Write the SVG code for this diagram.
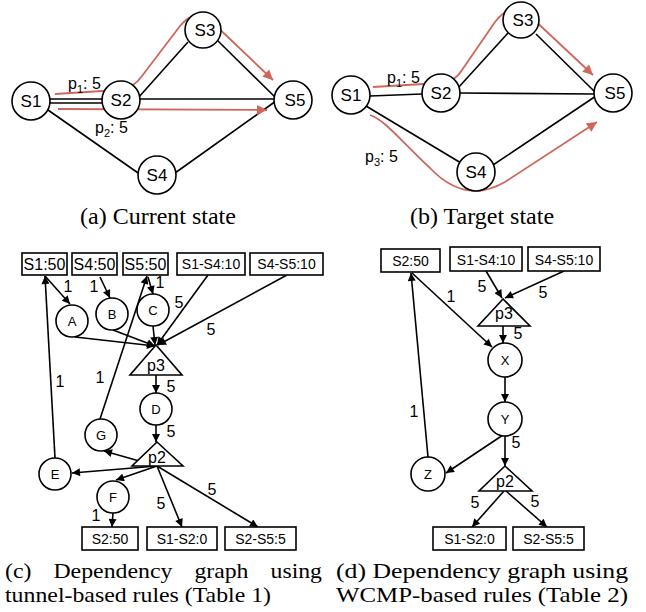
<svg xmlns="http://www.w3.org/2000/svg" width="646" height="612" viewBox="0 0 646 612">
<style>
.bg{fill:#fff}
.nd{fill:#fff;stroke:#000;stroke-width:1.6}
.ln{stroke:#000;stroke-width:1.6;fill:none}
.la{stroke:#000;stroke-width:1.6;fill:none;marker-end:url(#ah)}
.rd{stroke:#d0665b;stroke-width:1.8;fill:none;marker-end:url(#rh)}
.t{font-family:"Liberation Sans",Arial,sans-serif;fill:#000;text-anchor:middle}
.big{font-size:17px}
.sm{font-size:13px}
.bx16{font-size:16px}
.bx14{font-size:14px}
.w{font-size:16px}
.tri{font-size:16px}
.lbl{font-family:"Liberation Sans",Arial,sans-serif;font-size:16px;fill:#000}
.cap{font-family:"Liberation Serif","Times New Roman",serif;font-size:24px;fill:#000}
.cap2{font-family:"Liberation Serif","Times New Roman",serif;font-size:22px;fill:#000}
</style>
<defs>
<marker id="ah" viewBox="0 0 10 10" refX="10" refY="5" markerWidth="9" markerHeight="8" markerUnits="userSpaceOnUse" orient="auto"><path d="M0,0 L10,5 L0,10 z" fill="#000"/></marker>
<marker id="rh" viewBox="0 0 10 10" refX="10" refY="5" markerWidth="12" markerHeight="10" markerUnits="userSpaceOnUse" orient="auto"><path d="M0,0 L10,5 L0,10 z" fill="#d0665b"/></marker>
</defs>
<rect class="bg" width="646" height="612"/>

<!-- Panel (a) -->
<g id="a-edges">
<line class="ln" x1="50" y1="99" x2="102" y2="99"/>
<line class="ln" x1="50" y1="103" x2="102" y2="103"/>
<line class="ln" x1="138" y1="98" x2="188" y2="42"/>
<line class="ln" x1="217" y1="40" x2="276" y2="98"/>
<line class="ln" x1="140" y1="99" x2="274" y2="99"/>
<line class="ln" x1="48" y1="110" x2="141" y2="175"/>
<line class="ln" x1="175" y1="173" x2="276" y2="101"/>
<path class="rd" d="M55,94 L118,90 Q133,89 142,76 L180,26 Q196,7 212,22 L273,80"/>
<path class="rd" d="M58,109 L267,110"/>
</g>
<g id="a-S1"><circle class="nd" cx="31" cy="101" r="19"/><text class="t big" x="31" y="107">S1</text></g>
<g id="a-S2"><circle class="nd" cx="121" cy="100" r="19"/><text class="t big" x="121" y="106">S2</text></g>
<g id="a-S3"><circle class="nd" cx="203" cy="30" r="18"/><text class="t big" x="205" y="36">S3</text></g>
<g id="a-S5"><circle class="nd" cx="293" cy="100" r="19"/><text class="t big" x="295" y="106">S5</text></g>
<g id="a-S4"><circle class="nd" cx="157" cy="175" r="19"/><text class="t big" x="157" y="181">S4</text></g>
<text class="lbl" x="68" y="89">p<tspan font-size="11" dy="4">1</tspan><tspan dy="-4">: 5</tspan></text>
<text class="lbl" x="95" y="133">p<tspan font-size="11" dy="4">2</tspan><tspan dy="-4">: 5</tspan></text>

<!-- Panel (b) -->
<g id="b-edges">
<line class="ln" x1="370" y1="96" x2="422" y2="94"/>
<line class="ln" x1="458" y1="88" x2="508" y2="33"/>
<line class="ln" x1="536" y1="34" x2="596" y2="93"/>
<line class="ln" x1="460" y1="93" x2="594" y2="94"/>
<line class="ln" x1="366" y1="106" x2="461" y2="163"/>
<line class="ln" x1="493" y1="165" x2="596" y2="96"/>
<path class="rd" d="M373,87 L440,83 Q455,82 462,70 L495,22 Q512,0 530,16 L593,75"/>
<path class="rd" d="M370,115 C385,120 400,140 430,168 Q465,205 505,182 L597,122"/>
</g>
<g id="b-S1"><circle class="nd" cx="351" cy="95" r="19"/><text class="t big" x="351" y="101">S1</text></g>
<g id="b-S2"><circle class="nd" cx="441" cy="93" r="19"/><text class="t big" x="441" y="99">S2</text></g>
<g id="b-S3"><circle class="nd" cx="521" cy="20" r="18"/><text class="t big" x="523" y="26">S3</text></g>
<g id="b-S5"><circle class="nd" cx="613" cy="93" r="19"/><text class="t big" x="615" y="99">S5</text></g>
<g id="b-S4"><circle class="nd" cx="476" cy="172" r="19"/><text class="t big" x="476" y="178">S4</text></g>
<text class="lbl" x="387" y="83">p<tspan font-size="11" dy="4">1</tspan><tspan dy="-4">: 5</tspan></text>
<text class="lbl" x="365" y="162">p<tspan font-size="11" dy="4">3</tspan><tspan dy="-4">: 5</tspan></text>

<text class="cap" x="80" y="224">(a) Current state</text>
<text class="cap" x="410" y="224">(b) Target state</text>

<!-- Panel (c) -->
<g id="c-edges">
<line class="la" x1="45" y1="276" x2="70" y2="304"/>
<line class="la" x1="100" y1="277" x2="110" y2="298"/>
<line class="la" x1="148" y1="277" x2="153" y2="294"/>
<line class="la" x1="55" y1="458" x2="45" y2="276"/>
<line class="la" x1="100" y1="419" x2="147" y2="276"/>
<line class="la" x1="75" y1="337" x2="155" y2="346"/>
<line class="la" x1="113" y1="330" x2="155" y2="346"/>
<line class="la" x1="153" y1="326" x2="155" y2="345"/>
<line class="la" x1="208" y1="275" x2="157" y2="345"/>
<line class="la" x1="287" y1="275" x2="158" y2="345"/>
<line class="la" x1="156" y1="375" x2="156" y2="393"/>
<line class="la" x1="156" y1="425" x2="156" y2="442"/>
<line class="la" x1="157" y1="466" x2="104" y2="451"/>
<line class="la" x1="157" y1="466" x2="72" y2="473"/>
<line class="la" x1="157" y1="466" x2="116" y2="480"/>
<line class="la" x1="157" y1="466" x2="182" y2="527"/>
<line class="la" x1="157" y1="466" x2="258" y2="527"/>
<line class="la" x1="113" y1="513" x2="112" y2="527"/>
<text class="t w" x="68" y="292">1</text>
<text class="t w" x="94" y="292">1</text>
<text class="t w" x="160" y="288">1</text>
<text class="t w" x="60" y="387">1</text>
<text class="t w" x="100" y="383">1</text>
<text class="t w" x="179" y="308">5</text>
<text class="t w" x="211" y="335">5</text>
<text class="t w" x="171" y="392">5</text>
<text class="t w" x="171" y="437">5</text>
<text class="t w" x="161" y="509">5</text>
<text class="t w" x="212" y="495">5</text>
<text class="t w" x="96" y="521">1</text>
</g>
<g id="c-S1-50"><rect class="nd" x="22" y="253" width="45" height="22"/><text class="t bx16" x="44.5" y="270">S1:50</text></g>
<g id="c-S4-50"><rect class="nd" x="72" y="253" width="45" height="22"/><text class="t bx16" x="94.5" y="270">S4:50</text></g>
<g id="c-S5-50"><rect class="nd" x="123" y="253" width="45" height="22"/><text class="t bx16" x="145.5" y="270">S5:50</text></g>
<g id="c-S1-S4"><rect class="nd" x="177" y="253" width="68" height="22"/><text class="t bx14" x="211" y="269">S1-S4:10</text></g>
<g id="c-S4-S5"><rect class="nd" x="250" y="253" width="73" height="22"/><text class="t bx14" x="286.5" y="269">S4-S5:10</text></g>
<g id="c-A"><circle class="nd" cx="72" cy="321" r="16"/><text class="t sm" x="72" y="326">A</text></g>
<g id="c-B"><circle class="nd" cx="112" cy="314" r="16"/><text class="t sm" x="112" y="319">B</text></g>
<g id="c-C"><circle class="nd" cx="153" cy="310" r="16"/><text class="t sm" x="153" y="315">C</text></g>
<g id="c-p3"><polygon class="nd" points="156,345 130,375 182,375"/><text class="t tri" x="156" y="371">p3</text></g>
<g id="c-D"><circle class="nd" cx="156" cy="409" r="16"/><text class="t sm" x="156" y="414">D</text></g>
<g id="c-G"><circle class="nd" cx="101" cy="435" r="16"/><text class="t sm" x="101" y="440">G</text></g>
<g id="c-p2"><polygon class="nd" points="157,442 132,466 183,466"/><text class="t tri" x="157" y="463">p2</text></g>
<g id="c-E"><circle class="nd" cx="55" cy="474" r="16"/><text class="t sm" x="55" y="479">E</text></g>
<g id="c-F"><circle class="nd" cx="113" cy="497" r="16"/><text class="t sm" x="113" y="502">F</text></g>
<g id="c-S2-50"><rect class="nd" x="82" y="527" width="56" height="23"/><text class="t bx14" x="110" y="544">S2:50</text></g>
<g id="c-S1-S2"><rect class="nd" x="147" y="527" width="70" height="23"/><text class="t bx14" x="182" y="544">S1-S2:0</text></g>
<g id="c-S2-S5"><rect class="nd" x="225" y="527" width="71" height="23"/><text class="t bx14" x="260.5" y="544">S2-S5:5</text></g>

<!-- Panel (d) -->
<g id="d-edges">
<line class="la" x1="486" y1="271" x2="502" y2="298"/>
<line class="la" x1="564" y1="271" x2="505" y2="298"/>
<line class="la" x1="503" y1="326" x2="503" y2="343"/>
<line class="la" x1="412" y1="273" x2="492" y2="347"/>
<line class="la" x1="505" y1="377" x2="505" y2="402"/>
<line class="la" x1="503" y1="435" x2="446" y2="473"/>
<line class="la" x1="428" y1="457" x2="411" y2="273"/>
<line class="la" x1="505" y1="436" x2="505" y2="466"/>
<line class="la" x1="504" y1="491" x2="472" y2="527"/>
<line class="la" x1="506" y1="491" x2="547" y2="527"/>
<text class="t w" x="482" y="292">5</text>
<text class="t w" x="543" y="298">5</text>
<text class="t w" x="518" y="339">5</text>
<text class="t w" x="451" y="302">1</text>
<text class="t w" x="414" y="417">1</text>
<text class="t w" x="516" y="448">5</text>
<text class="t w" x="475" y="508">5</text>
<text class="t w" x="535" y="507">5</text>
</g>
<g id="d-S2-50"><rect class="nd" x="381" y="249" width="59" height="23"/><text class="t bx14" x="410.5" y="266">S2:50</text></g>
<g id="d-S1-S4"><rect class="nd" x="450" y="247" width="72" height="24"/><text class="t bx14" x="486" y="265">S1-S4:10</text></g>
<g id="d-S4-S5"><rect class="nd" x="528" y="247" width="72" height="24"/><text class="t bx14" x="564" y="265">S4-S5:10</text></g>
<g id="d-p3"><polygon class="nd" points="503,299 478,326 530,326"/><text class="t tri" x="504" y="319">p3</text></g>
<g id="d-X"><circle class="nd" cx="505" cy="360" r="17"/><text class="t sm" x="505" y="365">X</text></g>
<g id="d-Y"><circle class="nd" cx="505" cy="419" r="17"/><text class="t sm" x="505" y="424">Y</text></g>
<g id="d-Z"><circle class="nd" cx="428" cy="474" r="17"/><text class="t sm" x="428" y="479">Z</text></g>
<g id="d-p2"><polygon class="nd" points="505,466 479,491 532,491"/><text class="t tri" x="505" y="487">p2</text></g>
<g id="d-S1-S2"><rect class="nd" x="433" y="527" width="73" height="23"/><text class="t bx14" x="469.5" y="544">S1-S2:0</text></g>
<g id="d-S2-S5"><rect class="nd" x="513" y="527" width="71" height="23"/><text class="t bx14" x="548.5" y="544">S2-S5:5</text></g>

<text class="cap2" x="5" y="578" textLength="26.4" lengthAdjust="spacingAndGlyphs">(c)</text>
<text class="cap2" x="53.4" y="578" textLength="119" lengthAdjust="spacingAndGlyphs">Dependency</text>
<text class="cap2" x="194.4" y="578" textLength="54" lengthAdjust="spacingAndGlyphs">graph</text>
<text class="cap2" x="270.5" y="578" textLength="51.5" lengthAdjust="spacingAndGlyphs">using</text>
<text class="cap2" x="5" y="602" textLength="266" lengthAdjust="spacingAndGlyphs">tunnel-based rules (Table 1)</text>
<text class="cap2" x="336" y="578" textLength="292" lengthAdjust="spacingAndGlyphs">(d) Dependency graph using</text>
<text class="cap2" x="336" y="602" textLength="292" lengthAdjust="spacingAndGlyphs">WCMP-based rules (Table 2)</text>
</svg>
